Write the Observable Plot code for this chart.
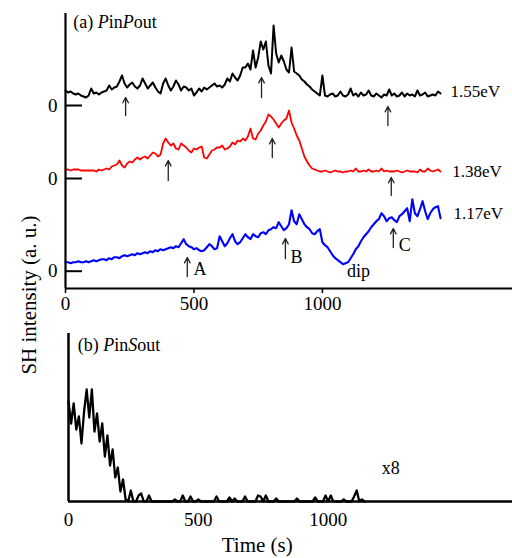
<!DOCTYPE html>
<html><head><meta charset="utf-8">
<script src="https://cdn.jsdelivr.net/npm/d3@7"></script>
<script src="https://cdn.jsdelivr.net/npm/@observablehq/plot@0.6"></script>
<style>
body{margin:0;background:#fff;}
#chart{position:relative;width:512px;height:558px;font-family:"Liberation Serif","Times New Roman",serif;}
#chart svg{display:block;}
#ylabel{position:absolute;left:29px;top:295px;transform:translate(-50%,-50%) rotate(-90deg);white-space:nowrap;font-size:21px;line-height:1;color:#000;}
</style></head><body><div id="chart"><div id="ylabel">SH intensity (a. u.)</div></div>
<script>
// ---------- data (time step 10 s) ----------
const tStep = 10;
// panel (a): heights above each trace's own zero (a.u.)
const black155 = [
15,13,14,12,11,12,10,9,8,10,
17,12,13,11,13,14,15,20,16,18,
19,24,30,22,18,21,23,19,17,20,
27,22,17,20,23,18,14,12,22,27,
20,15,19,25,21,15,19,18,15,17,
10,13,17,14,18,16,18,20,22,19,
20,18,21,27,24,32,28,25,30,38,
38,42,36,55,38,48,64,56,64,40,
32,80,52,43,50,44,36,33,58,34,
32,30,26,24,21,19,16,14,12,10,
30,10,9,11,12,9,10,14,10,9,
11,17,10,12,9,13,10,11,15,10,
9,12,10,8,11,10,16,10,12,9,
10,13,9,12,10,11,9,15,10,11,
13,9,10,11,10,14,12];
const red138 = [
9,9,8,9,9,9,8,8,8,8,
8,8,7,9,8,9,10,9,12,13,
14,18,13,11,15,17,16,19,21,19,
21,22,20,23,26,25,22,24,35,40,
36,33,35,30,29,35,33,31,28,26,
30,29,31,32,21,20,24,28,29,31,
31,33,29,30,32,36,34,38,37,40,
38,42,50,40,39,45,48,53,57,64,
62,59,55,51,55,58,60,68,56,50,
43,38,30,22,17,13,10,9,8,7,
7,8,7,6,7,8,7,7,6,7,
7,8,7,10,7,7,8,7,9,7,
7,8,7,10,7,8,7,7,7,8,
7,6,7,8,7,7,7,6,9,7,
7,10,8,7,8,9,7];
const blue117 = [
9,9,8,9,9,10,9,9,10,9,
10,11,10,11,12,12,11,13,12,14,
14,13,15,16,15,16,17,16,18,17,
18,19,18,20,19,21,20,22,21,22,
23,24,23,25,24,28,32,27,25,24,
22,23,21,20,21,24,27,25,22,23,
35,30,25,28,33,37,30,27,29,33,
37,34,32,37,35,34,38,39,37,41,
42,44,43,49,45,41,43,47,61,50,
47,57,52,47,44,42,38,37,40,42,
29,26,24,20,16,13,11,9,7,8,
9,13,17,22,25,30,34,37,40,44,
47,50,52,58,55,50,53,54,51,49,
55,57,60,63,50,72,58,55,62,70,
60,52,58,62,64,65,53];
// vertical offsets of each trace's zero (a.u.)
const zeroBlack = 183, zeroRed = 110, zeroBlue = 17.3;
const seriesNames = ["1.55eV", "1.38eV", "1.17eV"];
const seriesColors = ["#000000", "#ff0000", "#0000ff"];
// panel (b)
const pinSout = [
100,78,98,72,85,58,90,112,84,112,
70,88,60,78,45,66,36,52,24,34,
10,22,2,0,11,0,0,6,8,0,
0,6,0,0,0,0,0,0,0,0,
0,2,0,0,6,0,0,5,0,0,
2,0,0,0,0,0,0,5,0,0,
0,0,4,0,3,0,0,0,5,0,
0,0,0,6,5,0,6,0,0,0,
3,0,0,0,0,0,0,0,3,0,
0,0,0,0,0,4,0,0,0,6,
0,6,0,0,0,0,2,0,0,0,
5,11,0,2,0];
const xTicks = [0, 500, 1000];
// annotation arrows (time s, from y1 to y2 in a.u.)
const arrowsA = [
  {t: 234, y1: 173, y2: 191}, {t: 763, y1: 191, y2: 211}, {t: 1255, y1: 163, y2: 182},
  {t: 400, y1: 108, y2: 128}, {t: 805, y1: 131, y2: 150}, {t: 1268, y1: 93, y2: 111},
  {t: 474, y1: 12, y2: 31}, {t: 856, y1: 30, y2: 50}, {t: 1276, y1: 41, y2: 60}
];
const markLabels = [
  {t: 498, y: 19, text: "A"}, {t: 876, y: 31, text: "B"},
  {t: 1297, y: 43, text: "C"}, {t: 1096, y: 17.5, text: "dip"}
];
const seriesLabelPos = [{t: 1499, y: 197}, {t: 1505, y: 117}, {t: 1510, y: 75}];

// ---------- build ----------
const serif = '"Liberation Serif","Times New Roman",serif';
const toRows = (vals, off) => vals.map((v, i) => ({t: i * tStep, y: off + v}));
const rowsBlack = toRows(black155, zeroBlack);
const rowsRed = toRows(red138, zeroRed);
const rowsBlue = toRows(blue117, zeroBlue);
const zeros = [zeroBlack, zeroRed, zeroBlue];
const seriesLabels = seriesLabelPos.map((p, i) => ({...p, text: seriesNames[i]}));

const plotA = Plot.plot({
  width: 512, height: 315,
  marginLeft: 65, marginRight: 0, marginTop: 13, marginBottom: 27,
  style: {fontFamily: serif, fontSize: "18px", background: "white", color: "black"},
  x: {domain: [0, 1740], axis: null},
  y: {domain: [0, 275], axis: null},
  marks: [
    Plot.axisX({ticks: xTicks, tickSize: 5, tickPadding: 3, strokeWidth: 1.5, label: null, fontSize: 19, tickFormat: d => String(d)}),
    Plot.axisY({ticks: zeros, tickSize: 0, tickPadding: 8, label: null, fontSize: 19, tickFormat: () => "0"}),
    Plot.ruleY(zeros, {x1: 0, x2: 66, strokeWidth: 2, stroke: "black"}),
    Plot.line(rowsBlack, {x: "t", y: "y", stroke: seriesColors[0], strokeWidth: 2}),
    Plot.line(rowsRed, {x: "t", y: "y", stroke: seriesColors[1], strokeWidth: 1.8}),
    Plot.line(rowsBlue, {x: "t", y: "y", stroke: seriesColors[2], strokeWidth: 2.1}),
    Plot.ruleX([0], {strokeWidth: 2.2, stroke: "black"}),
    Plot.ruleY([0], {strokeWidth: 2.2, stroke: "black"}),
    Plot.arrow(arrowsA, {x1: "t", x2: "t", y1: "y1", y2: "y2", stroke: "#222", strokeWidth: 1.3, headLength: 7, headAngle: 55}),
    Plot.text(markLabels, {x: "t", y: "y", text: "text", textAnchor: "start", lineAnchor: "middle", fontSize: 18, fill: "black"}),
    Plot.text(seriesLabels, {x: "t", y: "y", text: "text", textAnchor: "start", lineAnchor: "middle", fontSize: 17, fill: "black"}),
    Plot.text([{t: 30, y: 266.5, text: "(a) PinPout"}], {x: "t", y: "y", text: "text", textAnchor: "start", lineAnchor: "middle", fontSize: 18, fill: "black"})
  ]
});

const rowsB = pinSout.map((v, i) => ({t: i * tStep, y: v}));
const plotB = Plot.plot({
  width: 512, height: 243,
  marginLeft: 68, marginRight: 0, marginTop: 18, marginBottom: 57,
  style: {fontFamily: serif, fontSize: "18px", background: "white", color: "black"},
  x: {domain: [0, 1710], axis: null},
  y: {domain: [0, 168], axis: null},
  marks: [
    Plot.axisX({ticks: xTicks, tickSize: 0, tickPadding: 11, label: null, fontSize: 19, tickFormat: d => String(d)}),
    Plot.line(rowsB, {x: "t", y: "y", stroke: "black", strokeWidth: 2.3}),
    Plot.ruleX([0], {strokeWidth: 2.5, stroke: "black"}),
    Plot.ruleY([0], {strokeWidth: 2.5, stroke: "black"}),
    Plot.text([{t: 36, y: 156, text: "(b) PinSout"}], {x: "t", y: "y", text: "text", textAnchor: "start", lineAnchor: "middle", fontSize: 18, fill: "black"}),
    Plot.text([{t: 1206, y: 33, text: "x8"}], {x: "t", y: "y", text: "text", textAnchor: "start", lineAnchor: "middle", fontSize: 18, fill: "black"}),
    Plot.text([{t: 727, y: -44, text: "Time (s)"}], {x: "t", y: "y", text: "text", textAnchor: "middle", lineAnchor: "middle", fontSize: 21, fill: "black"})
  ]
});

function italicize(svg, full, segs) {
  d3.select(svg).selectAll("text").filter(function () { return this.textContent === full; }).each(function () {
    const t = d3.select(this);
    t.text(null);
    segs.forEach(([s, it]) => t.append("tspan").attr("font-style", it ? "italic" : null).text(s));
  });
}
italicize(plotA, "(a) PinPout", [["(a) ", false], ["P", true], ["in", false], ["P", true], ["out", false]]);
italicize(plotB, "(b) PinSout", [["(b) ", false], ["P", true], ["in", false], ["S", true], ["out", false]]);

const chart = document.getElementById("chart");
chart.insertBefore(plotB, chart.firstChild);
chart.insertBefore(plotA, plotB);
</script></body></html>
